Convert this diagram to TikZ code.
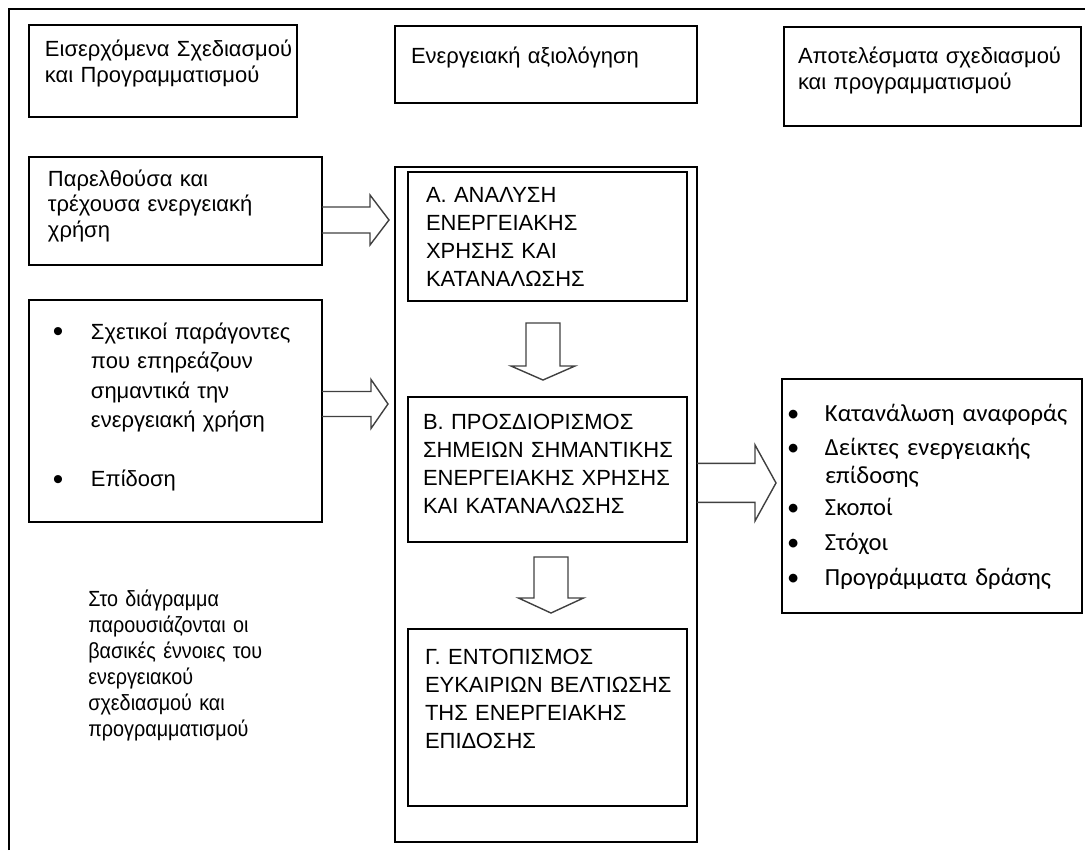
\documentclass[tikz,border=0pt]{standalone}
\usepackage{fontspec}
\setmainfont{Liberation Sans}
\newfontfamily\calibrifont{Carlito}
\newfontfamily\narrowfont{Liberation Sans}[FakeStretch=0.9]
\usetikzlibrary{calc}

% text lines of a box, no line breaking
\newcommand{\rows}[1]{\noindent\begin{tabular}[t]{@{}l@{}}#1\end{tabular}}
\newcommand{\bulletrows}[2]{\noindent\begin{tabular}[t]{@{}p{#1}@{}l@{}}#2\end{tabular}}
\newcommand{\bigdot}{\raisebox{-0.12em}{\fontsize{17}{16}\selectfont\textbullet}}

% block arrows: #1 start, #2 tip, #3 half shaft, #4 half head, #5 head length
\newcommand{\fatright}[5]{%
  \draw[fatarrow] ($(#1)+(0,-#3)$) -- ($(#2)+(-#5,-#3)$) -- ($(#2)+(-#5,-#4)$) -- (#2)
    -- ($(#2)+(-#5,#4)$) -- ($(#2)+(-#5,#3)$) -- ($(#1)+(0,#3)$);}
\newcommand{\fatdown}[5]{%
  \draw[fatarrow] ($(#1)+(-#3,0)$) -- ($(#2)+(-#3,-#5)$) -- ($(#2)+(-#4,-#5)$) -- (#2)
    -- ($(#2)+(#4,-#5)$) -- ($(#2)+(#3,-#5)$) -- ($(#1)+(#3,0)$) -- cycle;}

\begin{document}
\begin{tikzpicture}[x=0.02cm,y=-0.02cm,
  box/.style={draw,line width=1.1pt,anchor=north west,inner ysep=0pt,outer sep=0pt,
    font={\fontsize{12.5}{15.3}\selectfont}},
  capsbox/.style={box,font={\fontsize{12.5}{16}\selectfont}},
  fatarrow/.style={draw=black!75,line width=0.8pt,line join=miter}]

\useasboundingbox (0,0) rectangle (1085,850);

% outer frame, cut off at right and bottom
\draw[line width=1.1pt] (9,850) -- (9,9) -- (1085,9);

% column heads
\node[box,text width=4.72cm,inner xsep=0.32cm,text height=0.62cm,text depth=1.22cm] (inhead) at (29,25)
  {\rows{Εισερχόμενα Σχεδιασμού\\και Προγραμματισμού}};
\node[box,text width=5.40cm,inner xsep=0.32cm,text height=0.74cm,text depth=0.80cm] (evalhead) at (395,26)
  {\rows{Ενεργειακή αξιολόγηση}};
\node[box,text width=5.38cm,inner xsep=0.28cm,text height=0.72cm,text depth=1.26cm] (outhead) at (784,27)
  {\rows{Αποτελέσματα σχεδιασμού\\και προγραμματισμού}};

% inputs
\node[box,font={\fontsize{12.5}{14.7}\selectfont},text width=5.10cm,inner xsep=0.38cm,
  text height=0.58cm,text depth=1.58cm] (past) at (29,157)
  {\rows{Παρελθούσα και\\τρέχουσα ενεργειακή\\χρήση}};
\node[box,font={\fontsize{12.5}{16.8}\selectfont},text width=4.90cm,inner xsep=0.48cm,
  text height=0.78cm,text depth=3.66cm] (factors) at (29,300)
  {\bulletrows{0.76cm}{\bigdot & Σχετικοί παράγοντες\\
    & που επηρεάζουν\\
    & σημαντικά την\\
    & ενεργειακή χρήση\\
    & \\
    \bigdot & Επίδοση}};

% energy review
\node[draw,line width=1.1pt,anchor=north west,inner sep=0pt,outer sep=0pt,
  minimum width=6.04cm,minimum height=13.5cm] (eval) at (395,167) {};
\node[capsbox,text width=4.86cm,inner xsep=0.36cm,text height=0.60cm,text depth=1.98cm] (analysis) at (408,172)
  {\rows{Α. ΑΝΑΛΥΣΗ\\ΕΝΕΡΓΕΙΑΚΗΣ\\ΧΡΗΣΗΣ ΚΑΙ\\ΚΑΤΑΝΑΛΩΣΗΣ}};
\node[capsbox,text width=4.98cm,inner xsep=0.30cm,text height=0.64cm,text depth=2.26cm] (significant) at (408,397)
  {\rows{Β. ΠΡΟΣΔΙΟΡΙΣΜΟΣ\\ΣΗΜΕΙΩΝ ΣΗΜΑΝΤΙΚΗΣ\\ΕΝΕΡΓΕΙΑΚΗΣ ΧΡΗΣΗΣ\\ΚΑΙ ΚΑΤΑΝΑΛΩΣΗΣ}};
\node[capsbox,text width=4.90cm,inner xsep=0.34cm,text height=0.70cm,text depth=2.84cm] (improve) at (408,629)
  {\rows{Γ. ΕΝΤΟΠΙΣΜΟΣ\\ΕΥΚΑΙΡΙΩΝ ΒΕΛΤΙΩΣΗΣ\\ΤΗΣ ΕΝΕΡΓΕΙΑΚΗΣ\\ΕΠΙΔΟΣΗΣ}};

% outputs
\node[box,font={\calibrifont\fontsize{14}{16}\selectfont},text width=5.80cm,inner xsep=0.10cm,
  text height=0.84cm,text depth=3.84cm] (results) at (782,379)
  {\bulletrows{0.76cm}{\textbullet & Κατανάλωση αναφοράς\\[0.12cm]
    \textbullet & Δείκτες ενεργειακής\\
    & επίδοσης\\[0.08cm]
    \textbullet & Σκοποί\\[0.14cm]
    \textbullet & Στόχοι\\[0.14cm]
    \textbullet & Προγράμματα δράσης}};

% note
\node[anchor=base west,inner sep=0pt,text width=4.5cm,font={\narrowfont\fontsize{12.5}{14.8}\selectfont}] (note) at (88,606)
  {\rows{Στο διάγραμμα\\παρουσιάζονται οι\\βασικές έννοιες του\\ενεργειακού\\σχεδιασμού και\\προγραμματισμού}};

% arrow end points
\coordinate (a1s) at ($(past.east)+(0,9)$);
\coordinate (a1t) at ($(eval.west |- a1s)+(-6,0)$);
\coordinate (a2s) at ($(factors.east)+(0,-7)$);
\coordinate (a2t) at ($(eval.west |- a2s)+(-7,0)$);
\coordinate (a3s) at ($(eval.east)+(0,-21.5)$);
\coordinate (a3t) at ($(results.west |- a3s)+(-6,0)$);
\coordinate (d1s) at ($(analysis.south)+(-4.5,22)$);
\coordinate (d1t) at ($(significant.north)+(-4.5,-17)$);
\coordinate (d2s) at ($(significant.south)+(3.5,15)$);
\coordinate (d2t) at ($(improve.north)+(3.5,-16)$);

% block arrows
\fatright{a1s}{a1t}{13}{25}{19}
\fatright{a2s}{a2t}{12.5}{24.5}{17}
\fatright{a3s}{a3t}{19.5}{38}{21}
\fatdown{d1s}{d1t}{17}{32}{14}
\fatdown{d2s}{d2t}{17}{32.5}{15}

\end{tikzpicture}
\end{document}
